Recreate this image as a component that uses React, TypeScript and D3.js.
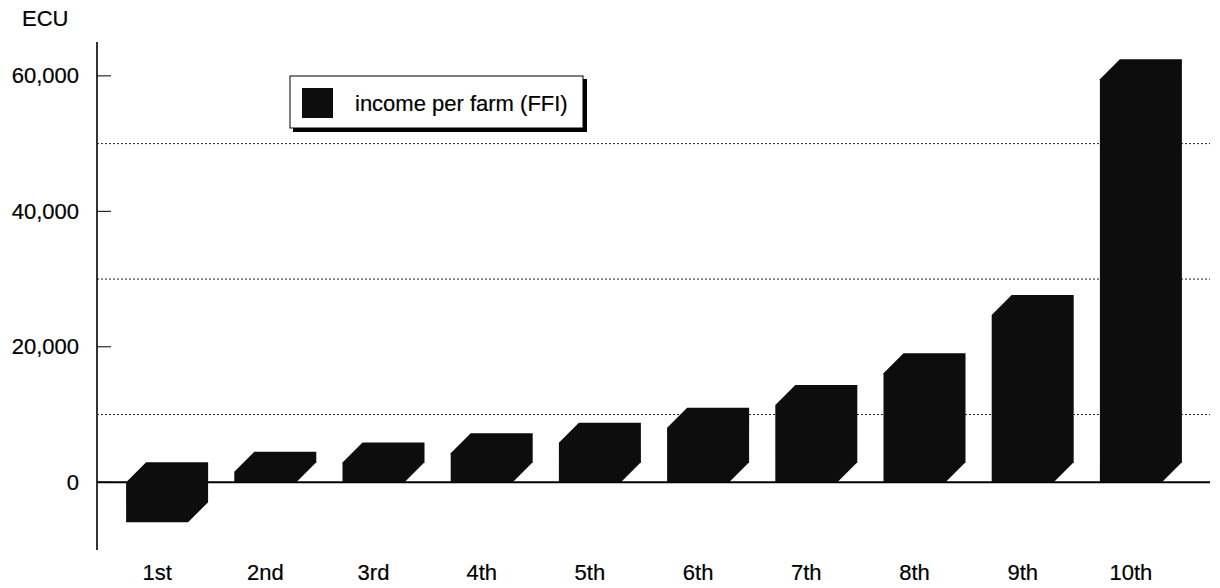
import React from "react";
import * as d3 from "d3";

const categories = ["1st", "2nd", "3rd", "4th", "5th", "6th", "7th", "8th", "9th", "10th"];
const incomePerFarm = [-5900, 1550, 2900, 4300, 5850, 8050, 11400, 16100, 24700, 59500];
const yTicks = [0, 20000, 40000, 60000];
const gridValues = [10000, 30000, 50000];
const legendLabel = "income per farm (FFI)";
const unitLabel = "ECU";

const W = 1220;
const H = 588;
const FONT = "'Liberation Sans', Arial, Helvetica, sans-serif";
const FS = 22;

export default function App() {
  const axisX = 97;
  const rightX = 1210;
  const y = d3.scaleLinear().domain([-10000, 65000]).range([550, 42]);
  const x = d3
    .scaleBand<string>()
    .domain(categories)
    .range([103, 1185])
    .paddingInner(0.427)
    .paddingOuter(0.2135);
  const w = x.bandwidth();
  const dx = 20;
  const dy = 20;
  const fmt = d3.format(",");

  const barPath = (cat: string, v: number) => {
    const x0 = x(cat)!;
    const yTop = Math.min(y(v), y(0));
    const yBot = Math.max(y(v), y(0));
    const p = d3.path();
    p.moveTo(x0, yBot);
    p.lineTo(x0, yTop);
    p.lineTo(x0 + dx, yTop - dy);
    p.lineTo(x0 + w + dx, yTop - dy);
    p.lineTo(x0 + w + dx, yBot - dy);
    p.lineTo(x0 + w, yBot);
    p.closePath();
    return p.toString();
  };

  const textProps = { fontSize: FS, fill: "#000", stroke: "#000", strokeWidth: 0.2 };

  return (
    <svg
      width={W}
      height={H}
      style={{ position: "absolute", left: 0, top: 0, background: "#fff" }}
      fontFamily={FONT}
    >
      <rect x={0} y={0} width={W} height={H} fill="#fff" />
      {gridValues.map((g) => (
        <line
          key={g}
          x1={axisX}
          x2={rightX}
          y1={y(g)}
          y2={y(g)}
          stroke="#222"
          strokeWidth={1}
          strokeDasharray="2,2"
        />
      ))}
      <line x1={axisX} x2={rightX} y1={y(0)} y2={y(0)} stroke="#000" strokeWidth={1.8} />
      {categories.map((c, i) => (
        <path key={c} d={barPath(c, incomePerFarm[i])} fill="#0d0d0d" />
      ))}
      <line x1={axisX} x2={axisX} y1={42} y2={550} stroke="#000" strokeWidth={1.6} />
      {yTicks.map((t) => (
        <g key={t}>
          <line x1={axisX} x2={axisX + 14} y1={y(t)} y2={y(t)} stroke="#000" strokeWidth={1} />
          <text x={79} y={y(t)} textAnchor="end" dominantBaseline="central" {...textProps}>
            {fmt(t)}
          </text>
        </g>
      ))}
      <text x={22} y={26} {...textProps}>
        {unitLabel}
      </text>
      {categories.map((c) => (
        <text key={c} x={x(c)! + w / 2} y={580} textAnchor="middle" {...textProps}>
          {c}
        </text>
      ))}
      <rect x={293} y={79} width={294} height={53} fill="#000" />
      <rect x={290} y={76} width={293} height={52} fill="#fff" stroke="#000" strokeWidth={1} />
      <rect x={302} y={88} width={31} height={30} fill="#0d0d0d" />
      <text x={355} y={103} dominantBaseline="central" {...textProps}>
        {legendLabel}
      </text>
    </svg>
  );
}
